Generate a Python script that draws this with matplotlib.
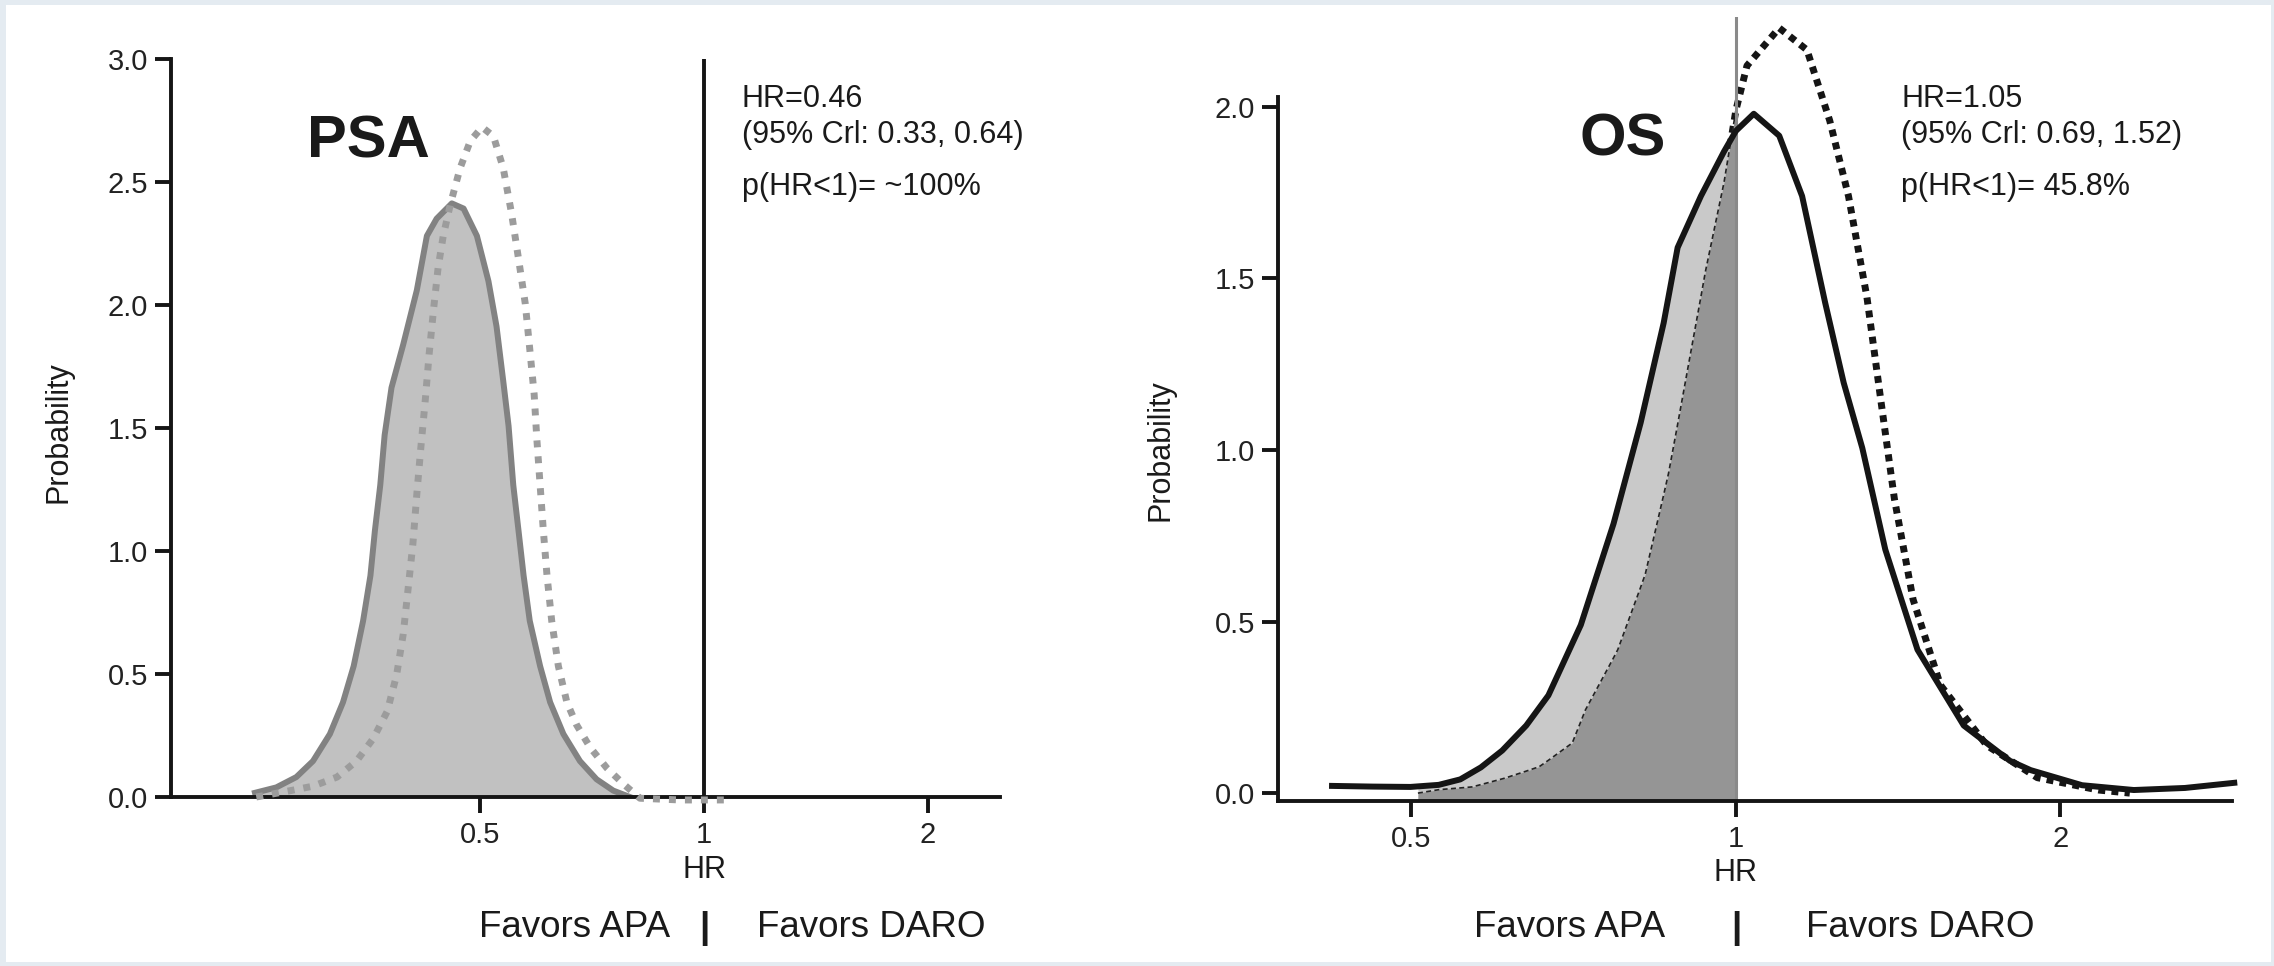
import numpy as np
import matplotlib
matplotlib.use("Agg")
import matplotlib.pyplot as plt
from matplotlib.patches import Rectangle
from matplotlib.ticker import FormatStrFormatter
from matplotlib import transforms

plt.rcParams['font.family'] = ['Liberation Sans', 'DejaVu Sans']

# ---- data ----
# PSA panel: solid (filled) curve and dotted curve
psa_hr = [0.249, 0.266, 0.283, 0.298, 0.314, 0.327, 0.338, 0.348, 0.356, 0.361,
          0.367, 0.372, 0.380, 0.394, 0.411, 0.424, 0.437, 0.458, 0.475, 0.495,
          0.513, 0.526, 0.537, 0.546, 0.554, 0.563, 0.572, 0.583, 0.602, 0.621,
          0.647, 0.681, 0.717, 0.755, 0.795]
psa_d = [0.017, 0.039, 0.081, 0.146, 0.256, 0.385, 0.532, 0.716, 0.900, 1.084,
         1.268, 1.471, 1.664, 1.839, 2.060, 2.281, 2.351, 2.413, 2.392, 2.281,
         2.097, 1.913, 1.692, 1.508, 1.268, 1.084, 0.900, 0.716, 0.532, 0.385,
         0.256, 0.146, 0.072, 0.026, 0.0]

psa_dot_hr = [0.250, 0.278, 0.298, 0.321, 0.341, 0.359, 0.375, 0.386, 0.394, 0.400,
              0.406, 0.411, 0.416, 0.422, 0.427, 0.433, 0.439, 0.446, 0.456, 0.470,
              0.485, 0.503, 0.521, 0.537, 0.551, 0.563, 0.575, 0.583, 0.591, 0.596,
              0.602, 0.608, 0.615, 0.624, 0.637, 0.654, 0.674, 0.703, 0.740, 0.779,
              0.820, 0.928, 1.074]
psa_dot_d = [0.0, 0.026, 0.044, 0.081, 0.146, 0.237, 0.348, 0.495, 0.661, 0.845,
             1.029, 1.232, 1.416, 1.618, 1.802, 1.987, 2.152, 2.281, 2.410, 2.557,
             2.667, 2.723, 2.686, 2.557, 2.373, 2.189, 2.005, 1.821, 1.637, 1.453,
             1.268, 1.084, 0.900, 0.716, 0.532, 0.385, 0.293, 0.201, 0.118, 0.053,
             -0.005, -0.012, -0.012]

# OS panel: solid curve and dotted curve
os_hr = [0.422, 0.460, 0.499, 0.530, 0.555, 0.580, 0.607, 0.639, 0.670, 0.718,
         0.770, 0.816, 0.857, 0.883, 0.928, 0.975, 1.0, 1.039, 1.097, 1.152,
         1.21, 1.259, 1.310, 1.376, 1.474, 1.627, 1.796, 1.877, 2.095, 2.34,
         2.61, 2.90]
os_d = [0.021, 0.019, 0.018, 0.024, 0.040, 0.075, 0.124, 0.197, 0.285, 0.49,
        0.785, 1.08, 1.37, 1.59, 1.74, 1.87, 1.93, 1.98, 1.916, 1.74,
        1.43, 1.196, 1.006, 0.71, 0.418, 0.197, 0.094, 0.067, 0.023, 0.009,
        0.015, 0.03]

os_dot_hr = [0.530, 0.569, 0.611, 0.657, 0.705, 0.725, 0.777, 0.824, 0.866, 0.901,
             0.937, 0.975, 1.0, 1.024, 1.097, 1.164, 1.222, 1.272, 1.323, 1.362,
             1.403, 1.460, 1.548, 1.709, 1.904, 2.17, 2.32]
os_dot_d = [0.010, 0.018, 0.044, 0.077, 0.146, 0.242, 0.418, 0.638, 0.932, 1.226,
            1.52, 1.78, 1.99, 2.12, 2.23, 2.166, 1.96, 1.74, 1.446, 1.152,
            0.858, 0.565, 0.315, 0.139, 0.045, 0.009, 0.0]

os_shade_from = 0.507

x_ticks = [0.5, 1, 2]
x_tick_labels = ['0.5', '1', '2']
psa_yticks = [0.0, 0.5, 1.0, 1.5, 2.0, 2.5, 3.0]
os_yticks = [0.0, 0.5, 1.0, 1.5, 2.0]

psa_text = ['HR=0.46', '(95% Crl: 0.33, 0.64)', 'p(HR<1)= ~100%']
os_text = ['HR=1.05', '(95% Crl: 0.69, 1.52)', 'p(HR<1)= 45.8%']

# ---- figure ----
W, H = 2274, 966


def fx(x):
    return x / W


def fy(y):
    return 1 - y / H


fig = plt.figure(figsize=(W / 100, H / 100), dpi=100)
fig.patch.set_facecolor('#e4ebf1')
fig.add_artist(Rectangle((fx(6), fy(962)), fx(2271) - fx(6), fy(5) - fy(962),
                         transform=fig.transFigure, facecolor='white',
                         edgecolor='none', zorder=-1))

ax1 = fig.add_axes([fx(171), fy(797), (1000 - 171) / W, (797 - 59) / H])
ax2 = fig.add_axes([fx(1278), fy(801), (2232 - 1278) / W, (801 - 17) / H])

INK = '#151515'


def style(ax, yticks):
    ax.set_facecolor('none')
    ax.set_xscale('log')
    for s in ('top', 'right'):
        ax.spines[s].set_visible(False)
    for s in ('left', 'bottom'):
        ax.spines[s].set_linewidth(2.8)
        ax.spines[s].set_color(INK)
    ax.set_xticks(x_ticks, labels=x_tick_labels)
    ax.minorticks_off()
    ax.set_yticks(yticks)
    ax.yaxis.set_major_formatter(FormatStrFormatter('%.1f'))
    ax.tick_params(direction='out', length=11.5, width=2.8, labelsize=21,
                   color=INK, labelcolor='#222222')
    ax.tick_params(axis='x', pad=6)
    ax.tick_params(axis='y', pad=5)


# PSA panel
style(ax1, psa_yticks)
ax1.set_xlim(0.192, 2.5)
ax1.set_ylim(0, 3.0)
ax1.fill_between(psa_hr, 0, psa_d, color='#c1c1c1', lw=0, zorder=1)
ax1.plot(psa_hr, psa_d, color='#828282', lw=4.3, zorder=2,
         solid_joinstyle='round')
ax1.plot(psa_dot_hr, psa_dot_d, color='#9c9c9c', lw=5,
         linestyle=(0, (1, 1.3)), dash_capstyle='butt', zorder=4, clip_on=False)
ax1.axvline(1, color=INK, lw=2.8, zorder=3)

# OS panel
style(ax2, os_yticks)
base = -0.023
ax2.set_xlim(0.376, 2.886)
ax2.set_ylim(base, 2.262)
ax2.spines['left'].set_bounds(base, 2.03)

os_hr_a = np.array(os_hr)
os_dot_hr_a = np.array(os_dot_hr)
xs = np.concatenate([os_hr_a, os_dot_hr_a, [os_shade_from, 1.0]])
xs = np.unique(xs[(xs >= os_shade_from) & (xs <= 1.0)])
top_solid = np.interp(xs, os_hr, os_d)
top_dot = np.interp(xs, os_dot_hr, os_dot_d, left=0.0)

ax2.plot(os_dot_hr, os_dot_d, color=INK, lw=5, linestyle=(0, (1, 0.9)),
         dash_capstyle='butt', zorder=1.5)
ax2.fill_between(xs, base, top_solid, color='#c9c9c9', lw=0, zorder=1.6)
ax2.fill_between(xs, base, top_dot, color='#959595', lw=0, zorder=1.7)
ax2.plot(xs, top_dot, color='#222222', lw=1.2, linestyle=(0, (3, 2)), zorder=1.8)
ax2.axvline(1, color='#8a8a8a', lw=2.2, zorder=2.5)
ax2.plot(os_hr, os_d, color=INK, lw=4.3, zorder=3, clip_on=False,
         solid_joinstyle='round')

# ---- text ----
for ax, lines, x0, tag, tag_x, tag_y, ylab_x, ylab_y, hr_y in (
        (ax1, psa_text, 742, 'PSA', 307, 157, 58, 432, 870),
        (ax2, os_text, 1901, 'OS', 1579, 155, 1160, 450, 873)):
    for line, yb in zip(lines, (107, 143, 195)):
        fig.text(fx(x0), fy(yb), line, ha='left', va='baseline',
                 fontsize=22, color='#1a1a1a')
    fig.text(fx(tag_x), fy(tag_y), tag, ha='left', va='baseline',
             fontsize=43, fontweight='bold', color='#1a1a1a')
    fig.text(fx(ylab_x), fy(ylab_y), 'Probability', rotation=90,
             ha='center', va='center', fontsize=22, color='#1a1a1a')
    tr = transforms.blended_transform_factory(ax.transData, fig.transFigure)
    ax.text(1, fy(hr_y), 'HR', transform=tr, ha='center', va='center',
            fontsize=22, color='#1a1a1a')
    ax.text(1, fy(938), '|', transform=tr, ha='center', va='baseline',
            fontsize=26.5, fontweight='bold', color='#1a1a1a')

fig.text(fx(670), fy(937), 'Favors APA', ha='right', va='baseline',
         fontsize=26.5, color='#1a1a1a')
fig.text(fx(757), fy(937), 'Favors DARO', ha='left', va='baseline',
         fontsize=26.5, color='#1a1a1a')
fig.text(fx(1665), fy(937), 'Favors APA', ha='right', va='baseline',
         fontsize=26.5, color='#1a1a1a')
fig.text(fx(1806), fy(937), 'Favors DARO', ha='left', va='baseline',
         fontsize=26.5, color='#1a1a1a')

fig.savefig('out.png', dpi=100, facecolor=fig.get_facecolor())
